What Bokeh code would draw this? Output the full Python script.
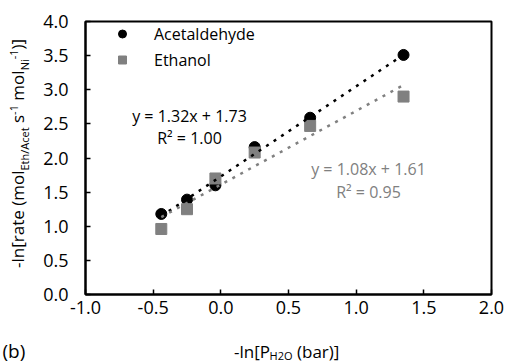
import math
from bokeh.plotting import figure
from bokeh.layouts import column, row
from bokeh.core.properties import value
from bokeh.models import Range1d, FixedTicker, PrintfTickFormatter, Label, Legend, LegendItem, Div
from bokeh.embed import file_html
from bokeh.resources import INLINE

# ---- data ----
x_h2o = [-0.44, -0.25, -0.04, 0.25, 0.66, 1.35]
acetaldehyde = [1.18, 1.39, 1.60, 2.16, 2.59, 3.51]
ethanol = [0.96, 1.25, 1.70, 2.08, 2.47, 2.90]
acet_fit = (1.32, 1.73)   # slope, intercept
eth_fit = (1.08, 1.61)
acet_eq = ["y = 1.32x + 1.73", "R² = 1.00"]
eth_eq = ["y = 1.08x + 1.61", "R² = 0.95"]
x_ticks = [-1.0, -0.5, 0.0, 0.5, 1.0, 1.5, 2.0]
y_ticks = [0.0, 0.5, 1.0, 1.5, 2.0, 2.5, 3.0, 3.5, 4.0]
series_names = ["Acetaldehyde", "Ethanol"]

# ---- layout (canvas pixels) ----
W, H = 506, 363
YW = 40            # width of strip holding the rotated y title
PH = 325           # height of main plot canvas
FL, FT, FR, FB = 84, 21, 491, 294   # frame edges in page pixels
FONT = "Open Sans"
GRAY = "#808080"
NB = "\u00a0"

p = figure(width=W - YW, height=PH, output_backend="svg", toolbar_location=None,
           title=None, x_range=Range1d(-1, 2), y_range=Range1d(0, 4),
           min_border_left=FL - YW, min_border_top=FT,
           min_border_right=W - FR, min_border_bottom=PH - FB)
p.grid.visible = False
p.outline_line_color = "black"
p.outline_line_width = 2

for ax in (p.xaxis[0], p.yaxis[0]):
    ax.axis_line_width = 2
    ax.axis_line_color = "black"
    ax.major_tick_in = 5
    ax.major_tick_out = 0
    ax.major_tick_line_width = 1.5
    ax.minor_tick_in = 0
    ax.minor_tick_out = 0
    ax.major_label_text_font = FONT
    ax.major_label_text_font_size = "18px"
    ax.major_label_text_color = "black"
    ax.formatter = PrintfTickFormatter(format="%.1f")
p.xaxis.ticker = FixedTicker(ticks=x_ticks)
p.yaxis.ticker = FixedTicker(ticks=y_ticks)
p.xaxis.major_label_standoff = 6
p.yaxis.major_label_standoff = 17

r_acet = p.scatter(x_h2o, acetaldehyde, marker="circle", size=11,
                   fill_color="black", line_color="black")
r_eth = p.scatter(x_h2o, ethanol, marker="square", size=11,
                  fill_color=GRAY, line_color=GRAY)

xs_fit = [min(x_h2o), max(x_h2o)]
p.line(xs_fit, [acet_fit[0] * v + acet_fit[1] for v in xs_fit],
       line_color="black", line_width=2.5, line_dash="3 6")
p.line(xs_fit, [eth_fit[0] * v + eth_fit[1] for v in xs_fit],
       line_color=GRAY, line_width=2.5, line_dash="3 6")

legend = Legend(items=[LegendItem(label=series_names[0], renderers=[r_acet]),
                       LegendItem(label=series_names[1], renderers=[r_eth])],
                location=(27, 223), border_line_color=None, background_fill_alpha=0,
                padding=0, margin=0, spacing=3, glyph_width=20, glyph_height=23,
                label_height=23, label_standoff=22, label_text_font=FONT,
                label_text_font_size="16px", label_text_color="black")
p.add_layout(legend)


def eq(text, cx, cy, color="black"):
    p.add_layout(Label(x=cx - FL, y=FB - cy, x_units="screen", y_units="screen",
                       text=text, text_font=FONT, text_font_size="16px",
                       text_align="center", text_baseline="alphabetic", text_color=color))


eq(acet_eq[0], 188, 115)
eq(acet_eq[1], 188, 137)
eq(eth_eq[0], 367, 168, GRAY)
eq(eth_eq[1], 367, 191, GRAY)

# ---- bottom strip: x axis title and panel tag (frame = whole strip, y upward) ----
fx = figure(width=W, height=H - PH, output_backend="svg", toolbar_location=None,
            title=None, x_range=Range1d(0, W), y_range=Range1d(0, H - PH), min_border=0,
            x_axis_location=None, y_axis_location=None, outline_line_color=None)
fx.grid.visible = False

# approximate glyph advance widths (em) for composing the subscript
CW = {' ': 0.26, NB: 0.26, '-': 0.322, '(': 0.296, ')': 0.296, '[': 0.297, ']': 0.297,
      'H': 0.738, 'O': 0.781, 'P': 0.603, 'a': 0.556, 'b': 0.613, 'l': 0.253,
      'n': 0.614, 'r': 0.408}


def tw(s, size):
    return sum(CW.get(ch, 0.572) for ch in s) * size


MAIN, SUB = 17, 11
XBASE = 351
xparts = [("-ln[P", MAIN, 0), ("H2O", SUB, 4), (NB + "(bar)]", MAIN, 0)]
total = sum(tw(s, f) for s, f, _ in xparts)
pos = 286 - total / 2
xs, ys, txt, sizes = [], [], [], []
for s, f, off in xparts:
    xs.append(pos); ys.append(H - (XBASE + off)); txt.append(s); sizes.append(f"{f}px")
    pos += tw(s, f)
fx.text(x=xs, y=ys, text=txt, text_font_size=sizes, text_font=value(FONT),
        text_align="left", text_baseline="alphabetic", text_color="black")
fx.text(x=[2], y=[H - 350], text=["(b)"], text_font_size="19px", text_font=value(FONT),
        text_align="left", text_baseline="alphabetic", text_color="black")

# ---- left strip: rotated y axis title with sub/superscripts ----
sub = "font-size:11px;position:relative;top:5px;"
sup = "font-size:11px;position:relative;top:-6px;"
ytitle = (
    f"<div style=\"white-space:nowrap;font-family:'{FONT}';font-size:17px;line-height:20px;"
    "color:black;width:max-content;margin:0;padding:0;transform-origin:0 0;"
    "transform:translate(8px,268px) rotate(-90deg);\">"
    f"-ln[rate (mol<span style='{sub}'>Eth/Acet</span> s<span style='{sup}'>-1</span> "
    f"mol<span style='{sub}'>Ni</span><span style='{sup}'>-1</span>)]</div>"
)
fy = Div(text=ytitle, width=YW, height=PH, styles={"overflow": "visible", "margin": "0",
                                                   "padding": "0"})

layout = column(row(fy, p, spacing=0), fx, spacing=0)
open("out.html", "w").write(file_html(layout, INLINE))
